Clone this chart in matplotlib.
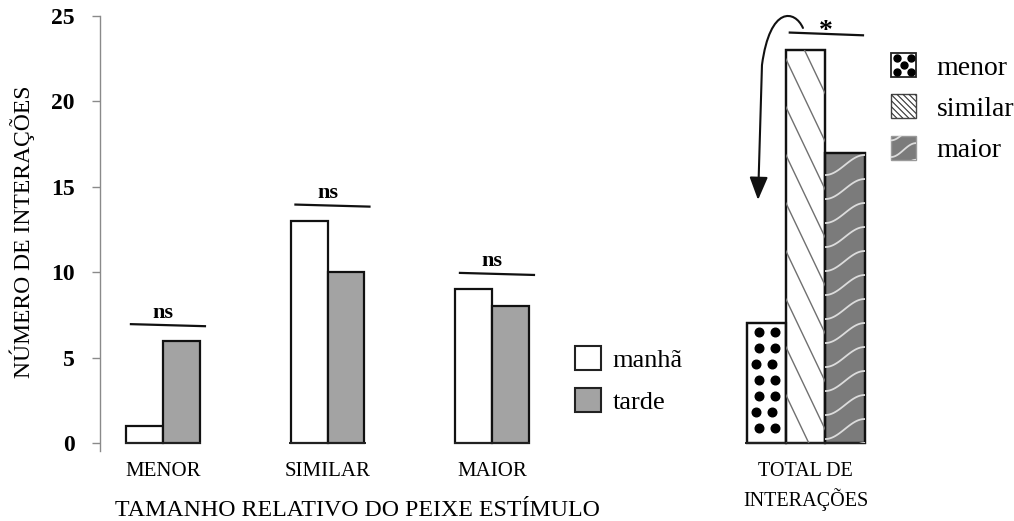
import numpy as np
import matplotlib
matplotlib.use("Agg")
import matplotlib.pyplot as plt
from matplotlib.patches import Patch, Rectangle, FancyArrowPatch
from matplotlib.path import Path
from matplotlib.lines import Line2D
from matplotlib.legend_handler import HandlerPatch

plt.rcParams['font.family'] = ['Liberation Serif', 'DejaVu Serif']

# dados
grupos = ['MENOR', 'SIMILAR', 'MAIOR']
manha = [1, 13, 9]
tarde = [6, 10, 8]
sig_grupos = ['ns', 'ns', 'ns']

total_nomes = ['menor', 'similar', 'maior']
total_valores = [7, 23, 17]
sig_total = '*'

COR_TARDE = '#a3a3a3'
COR_MAIOR = '#7b7b7b'
COR_LINHA_SIM = '#707070'


def textura(tipo, x0, y0, x1, y1, esc=1.0):
    """Gera as linhas/pontos de textura dentro de um retangulo (unidades: px * esc)."""
    saida = []
    if tipo == 'pontos':
        dy = 16 * esc
        linhas = np.arange(y1 - 9 * esc, y0, -dy)
        for i, yy in enumerate(linhas):
            off = -3 * esc if i % 3 == 2 else 0
            xs = np.array([x0 + 12 * esc + off, x0 + 28 * esc + off])
            saida.append(('o', xs, np.full_like(xs, yy)))
    elif tipo == 'diag':
        incl, passo_v = 2.1, 48 * esc
        passo = passo_v / incl
        h = y1 - y0
        for c in np.arange(x0 - h / incl, x1 + passo, passo):
            saida.append(('-', np.array([c, c + h / incl]), np.array([y1, y0])))
    elif tipo == 'diag45':
        passo = 6 * esc
        h = y1 - y0
        for c in np.arange(x0 - h, x1 + passo, passo):
            saida.append(('-', np.array([c, c + h]), np.array([y1, y0])))
    elif tipo == 'ondas':
        passo, sobe = 24 * esc, 20 * esc
        t = np.linspace(0, 1, 40)
        for base in np.arange(y0 - sobe, y1 + passo, passo):
            xs = x0 + t * (x1 - x0)
            ys = base + sobe * (1 - np.cos(np.pi * t)) / 2
            saida.append(('-', xs, ys))
    return saida


ESTILO = {
    'pontos': dict(color='black', marker='o', ms=6.2, ls='none'),
    'diag': dict(color=COR_LINHA_SIM, lw=1.0),
    'diag45': dict(color='#333333', lw=0.8),
    'ondas': dict(color='#dcdcdc', lw=1.3),
}


def texturizar(ax, barra, tipo):
    inv = ax.transData.inverted()
    (x0, y0) = ax.transData.transform((barra.get_x(), barra.get_y()))
    (x1, y1) = ax.transData.transform((barra.get_x() + barra.get_width(),
                                       barra.get_y() + barra.get_height()))
    for m, xs, ys in textura(tipo, x0, y0, x1, y1):
        pts = inv.transform(np.column_stack([xs, ys]))
        ln, = ax.plot(pts[:, 0], pts[:, 1], **ESTILO[tipo])
        ln.set_clip_path(barra)


class HandlerTextura(HandlerPatch):
    def __init__(self, tipo, **kw):
        super().__init__(**kw)
        self.tipo = tipo

    def create_artists(self, legend, orig_handle, xdescent, ydescent,
                       width, height, fontsize, trans):
        ret = Rectangle((-xdescent, -ydescent), width, height,
                        facecolor=orig_handle.get_facecolor(),
                        edgecolor=orig_handle.get_edgecolor(),
                        lw=orig_handle.get_linewidth(), transform=trans)
        arts = [ret]
        x0, y0 = -xdescent, -ydescent
        x1, y1 = x0 + width, y0 + height
        if self.tipo == 'pontos':
            xs = np.array([0.22, 0.78, 0.5, 0.22, 0.78]) * width + x0
            ys = np.array([0.78, 0.78, 0.5, 0.22, 0.22]) * height + y0
            ln = Line2D(xs, ys, transform=trans, **ESTILO['pontos'])
            ln.set_markersize(5)
            arts.append(ln)
        else:
            esc = 0.72 if self.tipo == 'diag45' else 0.5
            for m, xs, ys in textura(self.tipo, x0, y0, x1, y1, esc=esc):
                ln = Line2D(xs, ys, transform=trans, **ESTILO[self.tipo])
                ln.set_clip_path(ret)
                arts.append(ln)
        return arts


fig = plt.figure(figsize=(10.14, 5.21), dpi=100)
ax = fig.add_axes([100 / 1014, 0.1349, 914 / 1014, 0.8344])
ax.set_xlim(-0.383, 5.173)
ax.set_ylim(-0.45, 25)

larg = 0.222
x = np.arange(len(grupos))
b1 = ax.bar(x - larg / 2, manha, larg, color='white', edgecolor='#111111', lw=1.6)
b2 = ax.bar(x + larg / 2, tarde, larg, color=COR_TARDE, edgecolor='#111111', lw=1.6)
for xi in x:
    ax.hlines(0, xi - larg - 0.01, xi + larg + 0.01, color='#222222', lw=1.4)

# barras do total
x_total = 3.906
larg_t = 0.239
xt = x_total + (np.arange(len(total_valores)) - 1) * larg_t
cores_t = ['white', 'white', COR_MAIOR]
tipos_t = ['pontos', 'diag', 'ondas']
barras_t = ax.bar(xt, total_valores, larg_t, color=cores_t, edgecolor='#111111', lw=1.6)
ax.hlines(0, xt[0] - larg_t / 2 - 0.01, xt[-1] + larg_t / 2 + 0.01, color='#222222', lw=1.4)
for barra, tipo in zip(barras_t, tipos_t):
    texturizar(ax, barra, tipo)
    # contorno por cima da textura
    ax.add_patch(Rectangle((barra.get_x(), barra.get_y()), barra.get_width(), barra.get_height(),
                           fill=False, edgecolor='#111111', lw=1.6))

# marcadores de significancia
for xi, m, t, s in zip(x, manha, tarde, sig_grupos):
    topo = max(m, t) + 0.9
    ax.plot([xi + 0.03 - 0.225, xi + 0.03 + 0.225], [topo + 0.06, topo - 0.06], color='#111111', lw=1.6)
    ax.text(xi + 0.0, topo + 0.15, s, ha='center', va='bottom', fontsize=16, fontweight='bold')

topo_t = max(total_valores) + 0.95
ax.plot([x_total - 0.096, x_total + 0.349], [topo_t + 0.08, topo_t - 0.08], color='#111111', lw=1.6)
ax.text(x_total + 0.125, topo_t - 0.58, sig_total, ha='center', va='bottom', fontsize=20, fontweight='bold')

# seta curva
verts = [(3.890, 24.30), (3.842, 25.35), (3.690, 25.64), (3.641, 22.13), (3.617, 14.23)]
codes = [Path.MOVETO, Path.CURVE4, Path.CURVE4, Path.CURVE4, Path.LINETO]
seta = FancyArrowPatch(path=Path(verts, codes), arrowstyle='-|>,head_length=0.7,head_width=0.28',
                       mutation_scale=20, color='#111111', lw=1.5, clip_on=False)
ax.add_patch(seta)

# eixos
for lado in ['top', 'right', 'bottom']:
    ax.spines[lado].set_visible(False)
ax.spines['left'].set_color('#8a8a8a')
ax.spines['left'].set_linewidth(1.0)
ax.set_yticks(np.arange(0, 26, 5))
ax.tick_params(axis='y', direction='out', length=6, width=1, color='#8a8a8a', pad=12,
               labelsize=17)
for lab in ax.get_yticklabels():
    lab.set_fontweight('bold')

ax.set_xticks(list(x) + [x_total])
ax.set_xticklabels(grupos + ['TOTAL DE\nINTERAÇÕES'])
ax.tick_params(axis='x', length=0, pad=8, labelsize=15)
ax.get_xticklabels()[-1].set_fontsize(14.5)
ax.get_xticklabels()[-1].set_linespacing(1.4)

fig.text(22 / 1014, 1 - 232 / 521, 'NÚMERO DE INTERAÇÕES', rotation=90, ha='center', va='center',
         fontsize=17)
fig.text(357 / 1014, 1 - 510 / 521, 'TAMANHO RELATIVO DO PEIXE ESTÍMULO', ha='center', va='center',
         fontsize=17.2)

# legendas
h1 = [Patch(facecolor='white', edgecolor='#222222', lw=1.5, label='manhã'),
      Patch(facecolor=COR_TARDE, edgecolor='#222222', lw=1.5, label='tarde')]
leg1 = ax.legend(handles=h1, loc='upper left', bbox_to_anchor=(575 / 1014, 1 - 346 / 521),
                 bbox_transform=fig.transFigure, frameon=False, fontsize=19, borderpad=0,
                 borderaxespad=0, handlelength=1.0, handleheight=1.0, handletextpad=0.42,
                 labelspacing=0.62)
ax.add_artist(leg1)

h2 = [Patch(facecolor='white', edgecolor='#222222', lw=1.3, label=total_nomes[0]),
      Patch(facecolor='white', edgecolor='#444444', lw=1.0, label=total_nomes[1]),
      Patch(facecolor=COR_MAIOR, edgecolor='#9a9a9a', lw=1.0, label=total_nomes[2])]
ax.legend(handles=h2, loc='upper left', bbox_to_anchor=(891 / 1014, 1 - 53 / 521),
          bbox_transform=fig.transFigure, frameon=False, fontsize=20, borderpad=0,
          borderaxespad=0, handlelength=0.9, handleheight=0.95, handletextpad=0.75,
          labelspacing=0.5,
          handler_map={h2[0]: HandlerTextura('pontos'), h2[1]: HandlerTextura('diag45'),
                       h2[2]: HandlerTextura('ondas')})

fig.savefig('out.png', dpi=100)
